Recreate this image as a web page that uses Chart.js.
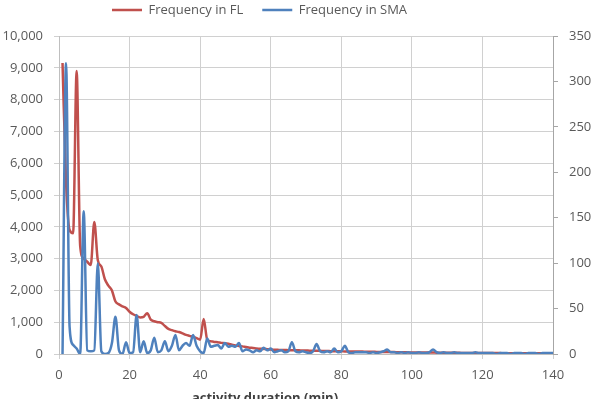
<!DOCTYPE html>
<html>
<head>
<meta charset="utf-8">
<script src="https://cdn.jsdelivr.net/npm/chart.js@4/dist/chart.umd.min.js"></script>
<style>
  html, body { margin: 0; padding: 0; background: #ffffff; }
  #wrap { width: 601px; height: 399px; position: relative; }
</style>
</head>
<body>
<div id="wrap"><canvas id="c"></canvas></div>
<script>
// ---- data ----
const minutes = [
  1,2,3,4,5,6,7,8,9,10,11,12,13,14,15,16,17,18,19,20,
  21,22,23,24,25,26,27,28,29,30,31,32,33,34,35,36,37,38,39,40,
  41,42,43,44,45,46,47,48,49,50,51,52,53,54,55,56,57,58,59,60,
  61,62,63,64,65,66,67,68,69,70,71,72,73,74,75,76,77,78,79,80,
  81,82,83,84,85,86,87,88,89,90,91,92,93,94,95,96,97,98,99,100,
  101,102,103,104,105,106,107,108,109,110,111,112,113,114,115,116,117,118,119,120,
  121,122,123,124,125,126,127,128,129,130,131,132,133,134,135,136,137,138,139,140
];
const freqFL = [
  9150,5400,3900,3800,8900,3400,3000,2900,2800,4150,2950,2750,2350,2150,2000,1650,1560,1500,1450,1330,
  1250,1200,1150,1170,1280,1080,1030,1000,980,880,790,750,715,690,650,600,570,540,500,450,
  1100,450,400,380,370,350,340,320,290,270,250,240,220,200,190,175,165,160,150,140,
  135,130,125,125,120,120,115,115,110,110,105,105,100,100,95,95,90,90,85,85,
  80,80,80,75,75,75,70,70,70,65,65,65,60,60,60,55,55,55,50,50,
  50,48,46,45,44,50,42,40,40,38,38,36,36,35,35,34,33,32,32,30,
  30,30,29,28,28,27,27,26,26,25,25,24,24,23,23,22,22,21,21,20
];
const freqSMA = [
  0,320,30,10,6,0,157,4,3,4,100,3,0,1,12,41,4,0,13,1,
  2,43,2,14,1,4,18,2,4,14,3,9,21,4,9,12,9,21,9,3,
  1,17,8,9,10,6,12,8,9,8,12,3,5,4,2,4,3,7,4,6,
  2,3,4,2,3,13,3,2,3,2,1,3,11,3,2,3,2,6,2,3,
  9,2,1,2,2,2,2,1,2,1,2,3,5,2,2,1,2,1,2,1,
  1,2,1,1,2,5,2,1,2,1,1,2,1,1,1,1,1,2,1,1,
  1,1,1,0,1,1,1,0,1,1,1,0,1,1,1,0,1,1,1,1
];
const seriesNames = ['Frequency in FL', 'Frequency in SMA'];
const xTitle = 'activity duration (min)';
const xTicks = [0, 20, 40, 60, 80, 100, 120, 140];
const leftTicks = [0,1000,2000,3000,4000,5000,6000,7000,8000,9000,10000];
const rightTicks = [0,50,100,150,200,250,300,350];

const toPoints = (xs, ys) => xs.map((x, i) => ({ x: x, y: ys[i] }));

const FONT = '"Open Sans", "DejaVu Sans", sans-serif';
const TICK_COLOR = '#595959';
const GRID = '#d0d0d0';

const shiftPlugin = {
  id: 'shiftPlugin',
  afterInit(chart) {
    const lg = chart.legend;
    if (lg && !lg._patched) {
      const fit = lg.fit;
      lg.fit = function () { fit.call(this); this.height = 36; };
      const draw = lg.draw;
      lg.draw = function () {
        const c = this.ctx; c.save(); c.translate(93, -15.5); draw.call(this); c.restore();
      };
      lg._patched = true;
    }
  },
  afterLayout(chart) {
    const s = chart.scales.x;
    if (s && !s._patched) {
      const dt = s.drawTitle;
      s.drawTitle = function () {
        const c = this.ctx; c.save(); c.translate(-41, 7); dt.call(this); c.restore();
      };
      s._patched = true;
    }
  }
};

new Chart(document.getElementById('c'), {
  type: 'line',
  data: {
    datasets: [
      {
        label: seriesNames[0],
        data: toPoints(minutes, freqFL),
        yAxisID: 'y',
        borderColor: '#C0504D',
        backgroundColor: '#C0504D',
        borderWidth: 2.5,
        pointRadius: 0,
        cubicInterpolationMode: 'monotone',
        order: 2
      },
      {
        label: seriesNames[1],
        data: toPoints(minutes, freqSMA),
        yAxisID: 'y1',
        borderColor: '#4F81BD',
        backgroundColor: '#4F81BD',
        borderWidth: 2.5,
        pointRadius: 0,
        cubicInterpolationMode: 'monotone',
        order: 1
      }
    ]
  },
  plugins: [shiftPlugin],
  options: {
    responsive: true,
    maintainAspectRatio: false,
    animation: false,
    layout: { padding: 0 },
    plugins: {
      tooltip: { enabled: false },
      legend: {
        display: true,
        position: 'top',
        align: 'start',
        labels: {
          usePointStyle: true,
          pointStyle: 'line',
          pointStyleWidth: 30,
          boxWidth: 30,
          padding: 19,
          color: TICK_COLOR,
          font: { family: FONT, size: 13 },
          sort: (a, b) => a.datasetIndex - b.datasetIndex
        }
      }
    },
    scales: {
      x: {
        type: 'linear',
        position: 'bottom',
        min: xTicks[0],
        max: xTicks[xTicks.length - 1],
        afterBuildTicks: (scale) => { scale.ticks = xTicks.map(v => ({ value: v })); },
        afterFit: (scale) => { scale.height = 45; },
        ticks: { color: TICK_COLOR, font: { family: FONT, size: 13 }, padding: 8, maxRotation: 0 },
        grid: { color: GRID, lineWidth: 1, tickLength: 5, drawTicks: true },
        border: { display: true, color: '#bfbfbf' },
        title: {
          display: true,
          text: xTitle,
          color: '#404040',
          font: { family: FONT, size: 13, weight: 'bold' },
          padding: { top: 0, bottom: 0 }
        }
      },
      y: {
        position: 'left',
        min: 0,
        max: 10000,
        afterBuildTicks: (scale) => { scale.ticks = leftTicks.map(v => ({ value: v })); },
        afterFit: (scale) => { scale.width = 59; },
        ticks: {
          color: TICK_COLOR,
          font: { family: FONT, size: 13 },
          padding: 11,
          callback: (v) => Number(v).toLocaleString('en-US')
        },
        grid: { color: GRID, lineWidth: 1, tickLength: 5, drawTicks: true },
        border: { display: true, color: '#bfbfbf' }
      },
      y1: {
        position: 'right',
        min: 0,
        max: 350,
        afterBuildTicks: (scale) => { scale.ticks = rightTicks.map(v => ({ value: v })); },
        afterFit: (scale) => { scale.width = 48; },
        ticks: { color: TICK_COLOR, font: { family: FONT, size: 13 }, padding: 11 },
        grid: { drawOnChartArea: false, color: '#a6a6a6', tickLength: 5, drawTicks: true },
        border: { display: true, color: '#a6a6a6' }
      }
    }
  }
});
</script>
</body>
</html>
